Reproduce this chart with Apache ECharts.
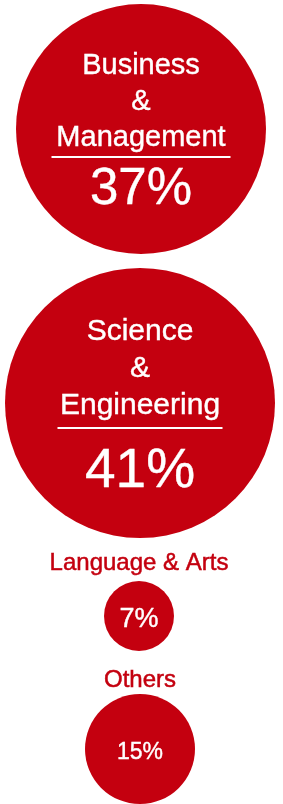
<!DOCTYPE html>
<html>
<head>
    <meta charset="utf-8">
    <title>ECharts</title>
    <script src="https://cdn.jsdelivr.net/npm/echarts@6/dist/echarts.min.js"></script>
    <style>
        html, body { margin: 0; padding: 0; background: #fff; }
    </style>
</head>
<body>
    <div id="main" style="width:283px;height:804px;"></div>
    <script type="text/javascript">

// data
var categories = ['Business & Management', 'Science & Engineering', 'Language & Arts', 'Others'];
var shares = [37, 41, 7, 15];

// layout of the bubbles (px in the 283x804 canvas)
var layout = [
    {x: 141, y: 129, r: 125, big: true, nameSize: 29, pctSize: 51, rowH: 36, lineW: 179, lineH: 2, pctH: 64, dy: 6},
    {x: 140, y: 403, r: 135, big: true, nameSize: 30, pctSize: 55, rowH: 37, lineW: 165, lineH: 7, pctH: 81, dy: 10},
    {x: 139, y: 616, r: 35, pctSize: 27, dy: 4, headSize: 24, headGap: 6},
    {x: 140, y: 749, r: 55, pctSize: 23, dy: 4, headSize: 24, headGap: 2}
];

var RED = '#c4000f';
var FONT = '"Liberation Sans", Arial, Helvetica, sans-serif';

var myChart = echarts.init(document.getElementById('main'));

var bubbleData = categories.map(function (name, i) {
    var l = layout[i];
    var item = {
        name: name,
        value: [l.x, l.y, shares[i]],
        symbolSize: l.r * 2
    };
    if (l.big) {
        var parts = name.split(' & ');
        item.label = {
            formatter: '{n|' + parts[0] + '}\n{n|&}\n{n|' + parts[1] + '}\n{line|}\n{p|' + shares[i] + '%}',
            offset: [0, l.dy],
            rich: {
                n: {fontSize: l.nameSize, lineHeight: l.rowH, color: '#fff', fontFamily: FONT,
                    textBorderColor: '#fff', textBorderWidth: 0.4},
                line: {width: l.lineW, height: 2, lineHeight: l.lineH, backgroundColor: '#fff'},
                p: {fontSize: l.pctSize, lineHeight: l.pctH, color: '#fff', fontFamily: FONT,
                    textBorderColor: '#fff', textBorderWidth: 0.4}
            }
        };
    } else {
        item.label = {
            formatter: shares[i] + '%',
            fontSize: l.pctSize,
            offset: [0, l.dy]
        };
    }
    return item;
});

// headings above the small bubbles
var headData = [];
categories.forEach(function (name, i) {
    var l = layout[i];
    if (l.big) return;
    headData.push({
        name: name,
        value: [l.x, l.y],
        label: {
            distance: l.r + l.headGap,
            fontSize: l.headSize,
            lineHeight: 24
        }
    });
});

var option = {
    animation: false,
    grid: {left: 0, right: 0, top: 0, bottom: 0},
    xAxis: {type: 'value', min: 0, max: 283, show: false},
    yAxis: {type: 'value', min: 0, max: 804, inverse: true, show: false},
    series: [{
        type: 'scatter',
        silent: true,
        data: bubbleData,
        itemStyle: {color: RED, opacity: 1},
        label: {
            show: true,
            position: 'inside',
            color: '#fff',
            fontFamily: FONT,
            textBorderColor: '#fff',
            textBorderWidth: 0.4
        }
    }, {
        type: 'scatter',
        silent: true,
        symbolSize: 0,
        data: headData,
        itemStyle: {color: RED, opacity: 1},
        label: {
            show: true,
            position: 'top',
            color: RED,
            fontFamily: FONT,
            textBorderColor: RED,
            textBorderWidth: 0.5,
            formatter: '{b}'
        }
    }]
};

myChart.setOption(option);
    </script>
</body>
</html>
